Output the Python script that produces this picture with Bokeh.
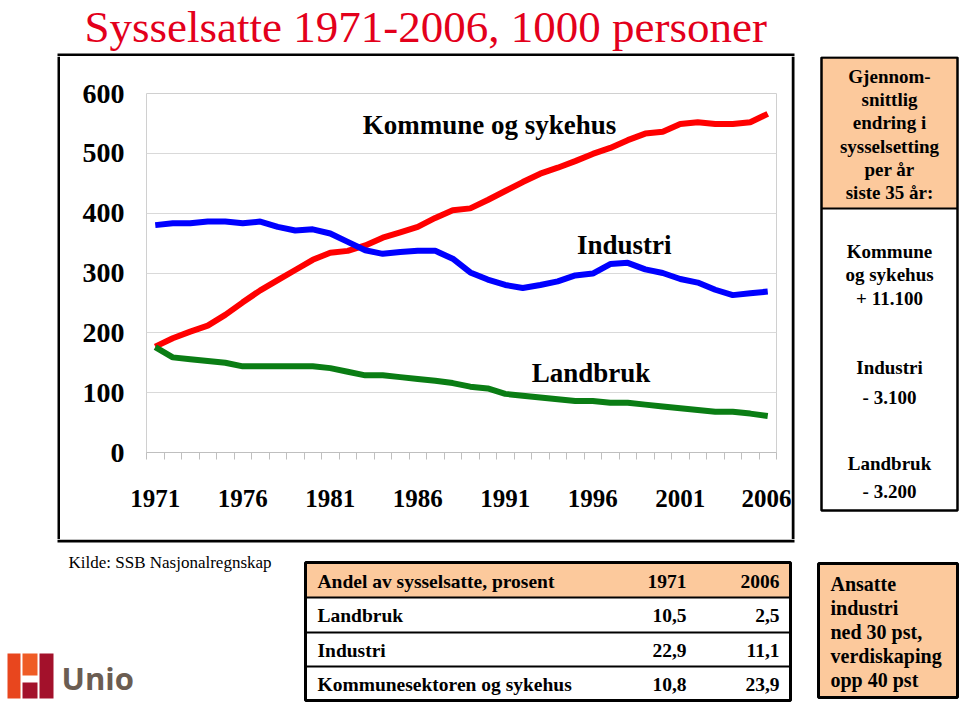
from bokeh.plotting import figure
from bokeh.models import Range1d, FixedTicker, Label
from bokeh.layouts import column, row
from bokeh.core.properties import value
from bokeh.embed import file_html
from bokeh.resources import INLINE

# ---------------- data ----------------
years = list(range(1971, 2007))
kommune = [177, 191, 202, 212, 230, 251, 271, 288, 305, 322, 334, 337, 346, 359, 368,
           377, 392, 405, 408, 422, 437, 452, 466, 476, 487, 499, 509, 522, 533, 536,
           549, 552, 549, 549, 552, 566]
industri = [380, 383, 383, 386, 386, 383, 386, 377, 371, 373, 366, 352, 338, 332, 335,
            337, 337, 324, 301, 289, 280, 275, 280, 286, 296, 299, 315, 317, 306, 300,
            290, 284, 272, 263, 266, 269]
landbruk = [176, 159, 156, 153, 150, 144, 144, 144, 144, 144, 141, 135, 129, 129, 126,
            123, 120, 116, 110, 107, 98, 95, 92, 89, 86, 86, 83, 83, 80, 77,
            74, 71, 68, 68, 65, 61]
year_labels = [1971, 1976, 1981, 1986, 1991, 1996, 2001, 2006]
y_ticks = [0, 100, 200, 300, 400, 500, 600]

title_text = "Sysselsatte 1971-2006, 1000 personer"
series_names = ["Kommune og sykehus", "Industri", "Landbruk"]

side_header = ["Gjennom-", "snittlig", "endring i", "sysselsetting", "per år", "siste 35 år:"]
side_body = ["Kommune", "og sykehus", "+ 11.100", "Industri", "- 3.100", "Landbruk", "- 3.200"]

table_header = ["Andel av sysselsatte, prosent", "1971", "2006"]
table_rows = ["Landbruk", "Industri", "Kommunesektoren og sykehus"]
share_1971 = ["10,5", "22,9", "10,8"]
share_2006 = ["2,5", "11,1", "23,9"]

note_lines = ["Ansatte", "industri", "ned 30 pst,", "verdiskaping", "opp 40 pst"]
source_text = "Kilde: SSB Nasjonalregnskap"
logo_text = "Unio"

SERIF = "Liberation Serif"
PEACH = "#FCC99C"


# ---------------- helpers: pixel-coordinate panels ----------------
def panel(x0, y0, w, h):
    f = figure(width=w, height=h, x_range=Range1d(0, w), y_range=Range1d(h, 0),
               x_axis_type=None, y_axis_type=None, min_border=0,
               toolbar_location=None, output_backend="svg")
    f.grid.visible = False
    f.outline_line_color = None
    f.background_fill_color = "white"
    f.border_fill_color = "white"
    f._x0, f._y0 = x0, y0
    return f


def rect(f, l, r, t, b, fill=None, line=None, lw=2):
    f.quad(left=[l - f._x0], right=[r - f._x0], top=[t - f._y0], bottom=[b - f._y0],
           fill_color=fill, fill_alpha=1 if fill else 0,
           line_color=line, line_alpha=1 if line else 0, line_width=lw)


def txt(f, x, y, s, size="19px", style="bold", align="left", color="black",
        font=SERIF, baseline="middle"):
    f.text(x=[x - f._x0], y=[y - f._y0], text=[s], text_font=value(font),
           text_font_size=value(size), text_font_style=value(style),
           text_align=value(align), text_baseline=value(baseline), text_color=color)


# ---------------- layout geometry ----------------
BOX_L, BOX_R, BOX_T, BOX_B = 57, 794, 53, 542
ROW_T, ROW_B = 56, 539
CH_L, CH_R = 60, 791

# title panel
title_p = panel(0, 0, 960, ROW_T)
txt(title_p, 84, 26, title_text, size="45px", style="normal", color="#e3001b")
rect(title_p, BOX_L, BOX_R, BOX_T, ROW_T, fill="black")

# left spacer with left edge of chart box
left_p = panel(0, ROW_T, CH_L, ROW_B - ROW_T)
rect(left_p, BOX_L, CH_L, ROW_T, ROW_B, fill="black")

# ---------------- chart ----------------
p = figure(width=CH_R - CH_L, height=ROW_B - ROW_T, output_backend="svg",
           toolbar_location=None,
           x_range=Range1d(1970.5, 2006.5), y_range=Range1d(0, 600),
           min_border_left=146 - CH_L, min_border_right=CH_R - 776,
           min_border_top=93 - ROW_T, min_border_bottom=ROW_B - 452)
p.background_fill_color = "white"
p.border_fill_color = "white"
p.outline_line_color = "#d0d0d0"
p.outline_line_width = 1

p.line(years, kommune, line_color="#ff0000", line_width=6)
p.line(years, industri, line_color="#0000ff", line_width=6)
p.line(years, landbruk, line_color="#0a7d14", line_width=6)

p.xgrid.grid_line_color = None
p.ygrid.grid_line_color = "#d9d9d9"
p.ygrid.grid_line_width = 1

p.yaxis.ticker = FixedTicker(ticks=y_ticks)
p.yaxis.axis_line_color = None
p.yaxis.major_tick_line_color = None
p.yaxis.minor_tick_line_color = None
p.yaxis.major_tick_out = 0
p.yaxis.major_tick_in = 0
p.yaxis.major_label_standoff = 22
p.yaxis.major_label_text_font = SERIF
p.yaxis.major_label_text_font_style = "bold"
p.yaxis.major_label_text_font_size = "28px"
p.yaxis.major_label_text_color = "black"

p.xaxis.ticker = FixedTicker(ticks=year_labels,
                             minor_ticks=[y - 0.5 for y in years] + [years[-1] + 0.5])
p.xaxis.axis_line_color = "#bfbfbf"
p.xaxis.major_tick_line_color = None
p.xaxis.major_tick_out = 0
p.xaxis.major_tick_in = 0
p.xaxis.minor_tick_line_color = "#bfbfbf"
p.xaxis.minor_tick_out = 7
p.xaxis.minor_tick_in = 0
p.xaxis.major_label_standoff = 30
p.xaxis.major_label_text_font = SERIF
p.xaxis.major_label_text_font_style = "bold"
p.xaxis.major_label_text_font_size = "25px"
p.xaxis.major_label_text_color = "black"

for name, xv, yv in zip(series_names, [1990.1, 1997.8, 1995.9], [548, 347, 133]):
    p.add_layout(Label(x=xv, y=yv, text=name, text_font=SERIF, text_font_size="27px",
                       text_font_style="bold", text_align="center",
                       text_baseline="middle", text_color="black"))

# right panel: right edge of chart box + info box
side_p = panel(CH_R, ROW_T, 960 - CH_R, ROW_B - ROW_T)
rect(side_p, CH_R, BOX_R, ROW_T, ROW_B, fill="black")
rect(side_p, 821, 957, 57, 208, fill=PEACH)
rect(side_p, 821, 957, 208, 208, line="black", lw=2)
rect(side_p, 821, 957, 57, 510, line="black", lw=2.5)
for i, s in enumerate(side_header):
    txt(side_p, 889, 76 + i * 23.2, s, align="center")
for s, yy in zip(side_body, [251, 274, 298, 367, 397, 463, 491]):
    txt(side_p, 889, yy, s, align="center")

# bottom panel
bot_p = panel(0, ROW_B, 960, 707 - ROW_B)
rect(bot_p, BOX_L, BOX_R, ROW_B, BOX_B, fill="black")
txt(bot_p, 68, 562, source_text, size="17px", style="normal")

rect(bot_p, 305, 790, 562, 597, fill=PEACH)
for yy in [597, 632, 666]:
    rect(bot_p, 305, 790, yy, yy, line="black", lw=2)
rect(bot_p, 305, 790, 562, 700, line="black", lw=3)
txt(bot_p, 317, 581, table_header[0], size="19.5px")
txt(bot_p, 686, 581, table_header[1], size="19.5px", align="right")
txt(bot_p, 779, 581, table_header[2], size="19.5px", align="right")
for i, (name, a, b) in enumerate(zip(table_rows, share_1971, share_2006)):
    yy = 615 + i * 34.5
    txt(bot_p, 317, yy, name, size="19.5px")
    txt(bot_p, 686, yy, a, size="19.5px", align="right")
    txt(bot_p, 779, yy, b, size="19.5px", align="right")

rect(bot_p, 818, 957, 563, 697, fill=PEACH, line="black", lw=3)
for i, s in enumerate(note_lines):
    txt(bot_p, 830, 583 + i * 24, s, size="20px")

# logo
rect(bot_p, 7, 20, 653, 698, fill="#e8461e")
rect(bot_p, 22, 37, 653, 675, fill="#ef5b25")
rect(bot_p, 22, 37, 682, 698, fill="#a3112b")
rect(bot_p, 39, 53, 653, 698, fill="#a3112b")
txt(bot_p, 61, 677, logo_text, size="31px", style="bold", color="#6b5d52", font="Open Sans")

layout = column(title_p,
                row(column(left_p), column(p), column(side_p), spacing=0),
                bot_p, spacing=0)

open("out.html", "w").write(file_html(layout, INLINE))
